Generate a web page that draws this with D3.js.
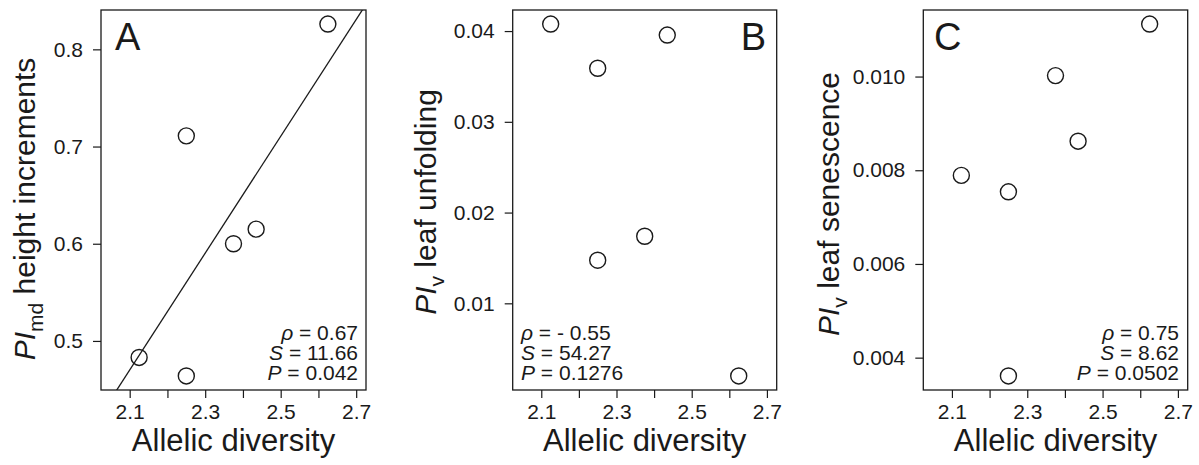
<!DOCTYPE html>
<html>
<head>
<meta charset="utf-8">
<script src="https://cdn.jsdelivr.net/npm/d3@7"></script>
<style>
    body { margin: 0; background: #fff; }
    svg text { font-family: "Liberation Sans", Arial, Helvetica, sans-serif; fill: #1a1a1a; }
</style>
</head>
<body>
<svg id="canvas" width="1199" height="465"></svg>
<script>
// shared x values (allelic diversity) for all three panels
var allelicDiversity = [2.125, 2.25, 2.25, 2.375, 2.435, 2.625];
var piHeightIncrements = [0.483, 0.464, 0.711, 0.600, 0.615, 0.826];
var piLeafUnfolding = [0.04077, 0.01475, 0.0359, 0.01739, 0.03956, 0.0020];
var piLeafSenescence = [0.00789, 0.00754, 0.00361, 0.01002, 0.00862, 0.01112];

var xLimits = [2.05, 2.7];
var xTicks = [2.1, 2.2, 2.3, 2.4, 2.5, 2.6, 2.7];
var xTickLabels = ["2.1", "", "2.3", "", "2.5", "", "2.7"];

var yTicksA = [0.5, 0.6, 0.7, 0.8];
var yTicksB = [0.01, 0.02, 0.03, 0.04];
var yTicksC = [0.004, 0.006, 0.008, 0.010];

var statsA = [["ρ", " = 0.67"], ["S", " = 11.66"], ["P", " = 0.042"]];
var statsB = [["ρ", " = - 0.55"], ["S", " = 54.27"], ["P", " = 0.1276"]];
var statsC = [["ρ", " = 0.75"], ["S", " = 8.62"], ["P", " = 0.0502"]];

// fitted line in panel A
var fitA = {intercept: -0.792, slope: 0.601};

var panels = [
    {id: "A", left: 101, right: 366, y: piHeightIncrements, ticks: yTicksA, fmt: ".1f",
        sub: "md", rest: " height increments", titleX: 35, titleY: 209,
        letterX: 115, letterAnchor: "start", stats: statsA, statsX: 358, statsAnchor: "end", fit: fitA},
    {id: "B", left: 512.7, right: 776.7, y: piLeafUnfolding, ticks: yTicksB, fmt: ".2f",
        sub: "v", rest: " leaf unfolding", titleX: 436, titleY: 202,
        letterX: 766, letterAnchor: "end", stats: statsB, statsX: 521, statsAnchor: "start"},
    {id: "C", left: 923.3, right: 1187.7, y: piLeafSenescence, ticks: yTicksC, fmt: ".3f",
        sub: "v", rest: " leaf senescence", titleX: 839, titleY: 204,
        letterX: 934, letterAnchor: "start", stats: statsC, statsX: 1179, statsAnchor: "end"}
];

var plotTop = 10, plotBottom = 390;
var ink = "#1a1a1a";
var svg = d3.select("#canvas");

// R style axis range: 4% padding on each side
function padded(ext) {
    var d = (ext[1] - ext[0]) * 0.04;
    return [ext[0] - d, ext[1] + d];
}

panels.forEach(function (p) {
    var x = d3.scaleLinear().domain(padded(xLimits)).range([p.left, p.right]);
    var y = d3.scaleLinear().domain(padded(d3.extent(p.y))).range([plotBottom, plotTop]);
    var g = svg.append("g").attr("class", "panel-" + p.id);

    // x axis
    var xAxis = d3.axisBottom(x).tickValues(xTicks).tickSize(8).tickPadding(6)
        .tickFormat(function (d, i) { return xTickLabels[i]; });
    var xg = g.append("g").attr("transform", "translate(0," + plotBottom + ")").call(xAxis);
    xg.select(".domain").remove();
    xg.selectAll(".tick line").attr("stroke", ink).attr("stroke-width", 1.2);
    xg.selectAll(".tick text").attr("font-size", 21).attr("dy", "0.72em").style("fill", ink);

    // y axis
    var yAxis = d3.axisLeft(y).tickValues(p.ticks).tickSize(8).tickPadding(10)
        .tickFormat(d3.format(p.fmt));
    var yg = g.append("g").attr("transform", "translate(" + p.left + ",0)").call(yAxis);
    yg.select(".domain").remove();
    yg.selectAll(".tick line").attr("stroke", ink).attr("stroke-width", 1.2);
    yg.selectAll(".tick text").attr("font-size", 21).style("fill", ink);

    // box
    g.append("rect")
        .attr("x", p.left).attr("y", plotTop)
        .attr("width", p.right - p.left).attr("height", plotBottom - plotTop)
        .attr("fill", "none").attr("stroke", ink).attr("stroke-width", 1.3);

    // fitted line, clipped to the box
    if (p.fit) {
        g.append("clipPath").attr("id", "clip-" + p.id).append("rect")
            .attr("x", p.left).attr("y", plotTop)
            .attr("width", p.right - p.left).attr("height", plotBottom - plotTop);
        var xs = x.domain();
        g.append("line")
            .attr("clip-path", "url(#clip-" + p.id + ")")
            .attr("x1", x(xs[0])).attr("y1", y(p.fit.intercept + p.fit.slope * xs[0]))
            .attr("x2", x(xs[1])).attr("y2", y(p.fit.intercept + p.fit.slope * xs[1]))
            .attr("stroke", ink).attr("stroke-width", 1.3);
    }

    // points
    g.selectAll("circle.pt").data(p.y).enter().append("circle")
        .attr("class", "pt")
        .attr("cx", function (d, i) { return x(allelicDiversity[i]); })
        .attr("cy", function (d) { return y(d); })
        .attr("r", 8)
        .attr("fill", "none").attr("stroke", ink).attr("stroke-width", 1.4);

    // panel letter
    g.append("text")
        .attr("x", p.letterX).attr("y", 50)
        .attr("text-anchor", p.letterAnchor)
        .attr("font-size", 38)
        .text(p.id);

    // stats
    p.stats.forEach(function (s, i) {
        var t = g.append("text")
            .attr("x", p.statsX).attr("y", 340 + i * 20)
            .attr("text-anchor", p.statsAnchor)
            .attr("font-size", 21);
        t.append("tspan").attr("font-style", "italic").text(s[0]);
        t.append("tspan").text(s[1]);
    });

    // x title
    g.append("text")
        .attr("x", (p.left + p.right) / 2).attr("y", 451)
        .attr("text-anchor", "middle")
        .attr("font-size", 31)
        .text("Allelic diversity");

    // y title
    var yt = g.append("text")
        .attr("transform", "translate(" + p.titleX + "," + p.titleY + ") rotate(-90)")
        .attr("text-anchor", "middle")
        .attr("font-size", 30);
    yt.append("tspan").attr("font-style", "italic").text("PI");
    yt.append("tspan").attr("font-size", 21).attr("dy", 8).text(p.sub);
    yt.append("tspan").attr("dy", -8).text(p.rest);
});
</script>
</body>
</html>
